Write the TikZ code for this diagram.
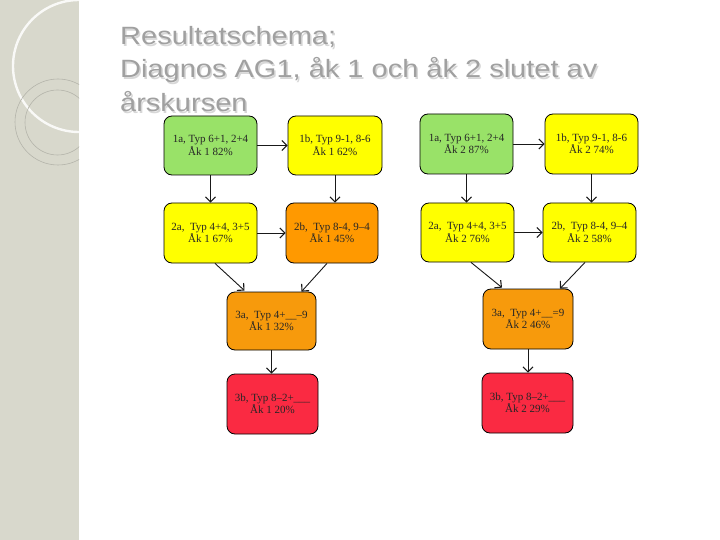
\documentclass[tikz,border=0pt]{standalone}
\usepackage{fontspec}
\setmainfont{Liberation Serif}
\newfontfamily\titlefont{Liberation Sans}
\usetikzlibrary{arrows.meta,calc}
\definecolor{bandcol}{RGB}{216,216,204}
\definecolor{bandlight}{RGB}{228,228,218}
\definecolor{arcgrey}{RGB}{180,180,170}
\definecolor{titlegrey}{RGB}{160,160,160}
\definecolor{titleshadow}{RGB}{215,215,215}
\definecolor{boxgreen}{RGB}{153,226,104}
\definecolor{boxyellow}{RGB}{255,255,0}
\definecolor{boxorange}{RGB}{255,153,0}
\definecolor{boxorangeb}{RGB}{247,154,12}
\definecolor{boxred}{RGB}{250,42,66}
\tikzset{
  resbox/.style={draw=black, line width=0.8pt, rounded corners=8pt, align=center,
    inner sep=0pt, font=\fontsize{11}{12.5}\selectfont, text=black!85},
  flow/.style={-{Straight Barb[length=5pt,width=10pt,line width=1.1pt]}, line width=0.9pt, draw=black!90},
  titletext/.style={anchor=base west, font=\titlefont\fontsize{25}{25}\selectfont, inner sep=0pt}
}
\newcommand{\ttl}[1]{\scalebox{1.16}[1]{#1}}
\begin{document}
\begin{tikzpicture}[x=1pt,y=-1pt]
\useasboundingbox (0,0) rectangle (720,540);
\fill[white] (0,0) rectangle (720,540);
% left decorative band
\fill[bandcol] (0,0) rectangle (79,540);
\begin{scope}
\clip (0,0) rectangle (79,540);
\fill[bandlight] (0,0) -- (63,0) arc[start angle=0,end angle=-90,radius=63] -- cycle;
\draw[arcgrey, line width=0.6pt] (63,0) arc[start angle=0,end angle=-90,radius=63];
\draw[white!85!bandcol, line width=2.4pt] (79,66) circle[radius=66];
\draw[arcgrey, line width=0.6pt] (58,122) circle[radius=43];
\draw[arcgrey, line width=0.6pt] (57.5,122.5) circle[radius=32.5];
\end{scope}
% title
\foreach \t/\yy [count=\i] in {{Resultatschema;}/45,{Diagnos AG1, åk 1 och åk 2 slutet av}/78,{årskursen}/112}{
  \node[titletext, text=titleshadow] (sh\i) at (121.5,\yy+1.5) {\ttl{\t}};
  \node[titletext, text=titlegrey] (ti\i) at (120,\yy) {\ttl{\t}};
}
% left chart
\node[resbox, fill=boxgreen, minimum width=93pt, minimum height=59pt] (L1a) at (210.5,145.5) {1a, Typ 6+1, 2+4\\Åk 1 82\%};
\node[resbox, fill=boxyellow, minimum width=94pt, minimum height=59pt] (L1b) at (335,145.5) {1b, Typ 9-1, 8-6\\Åk 1 62\%};
\node[resbox, fill=boxyellow, minimum width=93pt, minimum height=60pt] (L2a) at (210.5,233) {2a,\ \ Typ 4+4, 3+5\\Åk 1 67\%};
\node[resbox, fill=boxorange, minimum width=92pt, minimum height=60pt] (L2b) at (332,233) {2b,\ \ Typ 8-4, 9–4\\Åk 1 45\%};
\node[resbox, fill=boxorangeb, minimum width=89pt, minimum height=58pt] (L3a) at (271.5,321) {3a,\ \ Typ 4+\_\_–9\\Åk 1 32\%};
\node[resbox, fill=boxred, minimum width=91pt, minimum height=60pt] (L3b) at (272.5,404) {3b, Typ 8–2+\_\_\_\\Åk 1 20\%};
% right chart
\node[resbox, fill=boxgreen, minimum width=93pt, minimum height=60pt] (R1a) at (466.5,144) {1a, Typ 6+1, 2+4\\Åk 2 87\%};
\node[resbox, fill=boxyellow, minimum width=93pt, minimum height=60pt] (R1b) at (591.5,144) {1b, Typ 9-1, 8-6\\Åk 2 74\%};
\node[resbox, fill=boxyellow, minimum width=93pt, minimum height=59pt] (R2a) at (467.5,232.5) {2a,\ \ Typ 4+4, 3+5\\Åk 2 76\%};
\node[resbox, fill=boxyellow, minimum width=93pt, minimum height=59pt] (R2b) at (589.5,232.5) {2b,\ \ Typ 8-4, 9–4\\Åk 2 58\%};
\node[resbox, fill=boxorangeb, minimum width=90pt, minimum height=60pt] (R3a) at (528,319) {3a,\ \ Typ 4+\_\_=9\\Åk 2 46\%};
\node[resbox, fill=boxred, minimum width=91pt, minimum height=60pt] (R3b) at (527.5,403) {3b, Typ 8–2+\_\_\_\\Åk 2 29\%};
% left arrows
\draw[flow] (L1a.east) -- (L1b.west);
\draw[flow] (L1a.south) -- (L2a.north);
\draw[flow] (L1b.south) -- (L1b.south |- L2b.north);
\draw[flow] (L2a.east) -- (L2b.west);
\draw[flow] ($(L2a.south)+(4.5,0)$) -- ($(L3a.north)+(-27,-1)$);
\draw[flow] ($(L2b.south)+(-5,0)$) -- ($(L3a.north)+(30,0)$);
\draw[flow] (L3a.south) -- (L3a.south |- L3b.north);
% right arrows
\draw[flow] (R1a.east) -- (R1b.west);
\draw[flow] (R1a.south) -- (R2a.north -| R1a.south);
\draw[flow] (R1b.south) -- (R1b.south |- R2b.north);
\draw[flow] (R2a.east) -- (R2b.west);
\draw[flow] ($(R2a.south)+(3.5,0)$) -- ($(R3a.north)+(-26,-1)$);
\draw[flow] ($(R2b.south)+(-4.5,0)$) -- ($(R3a.north)+(32,0)$);
\draw[flow] (R3a.south) -- (R3a.south |- R3b.north);
\end{tikzpicture}
\end{document}
